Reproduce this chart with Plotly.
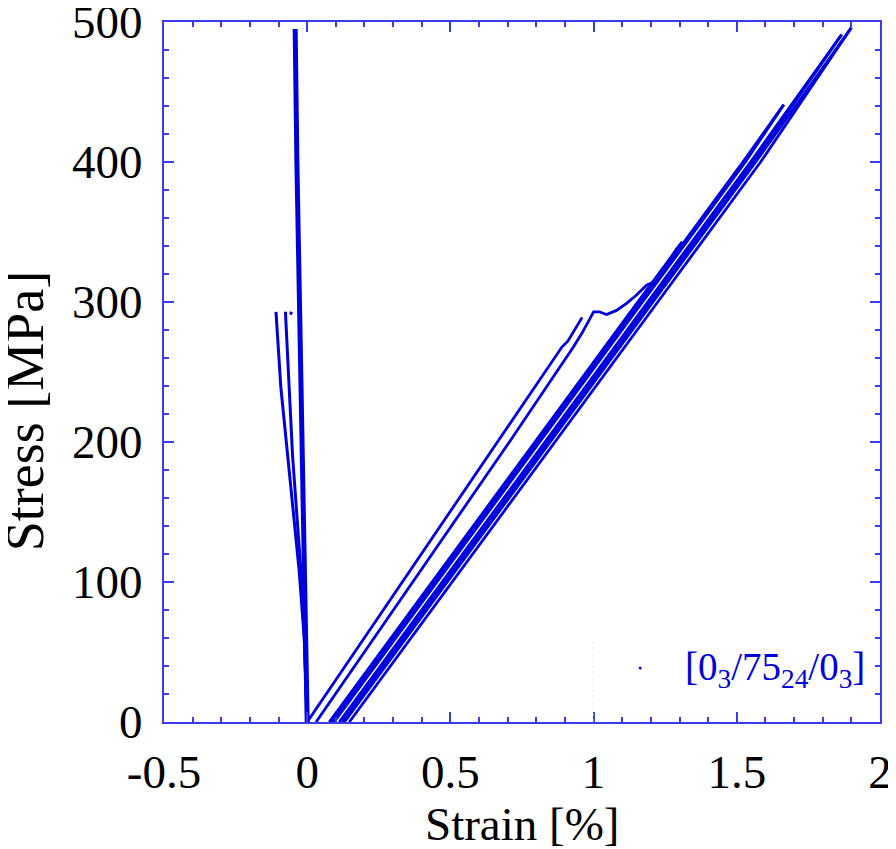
import plotly.graph_objects as go

BLUE = "#0000dd"
AXIS = "#3a3aee"
FONT = "Liberation Serif"

# Transverse strain branches (negative strain)
trans_main_x = [0, -0.007, -0.016, -0.030, -0.036, -0.042]
trans_main_y = [0, 76, 174, 305, 400, 495]
trans_a_x = [0, -0.010, -0.028, -0.051, -0.0745, -0.092, -0.109]
trans_a_y = [0, 59, 108, 157, 206, 239, 293]
trans_b_x = [0, -0.010, -0.022, -0.034, -0.051, -0.063, -0.076]
trans_b_y = [0, 59, 108, 141, 190, 239, 293]
trans_hook_x = [-0.058, -0.055]
trans_hook_y = [291, 293]

# Axial strain: loading / unloading cycles
load1_x = [0, 0.332, 0.664, 0.89, 0.91, 0.96]
load1_y = [0, 100, 200, 268, 272, 289]
reload2_x = [0.031, 0.37, 0.706, 0.93, 0.96, 1.0, 1.02, 1.045, 1.08, 1.115, 1.15, 1.185, 1.206, 1.25, 1.29, 1.31]
reload2_y = [0, 100, 200, 268, 278, 293, 293, 291, 294, 299, 305, 312, 314, 325, 338, 343]
unload2_x = [1.31, 1.154, 0.795, 0.436, 0.077]
unload2_y = [343, 300, 200, 100, 0]
reload3_x = [0.085, 0.444, 0.803, 1.162, 1.521, 1.664]
reload3_y = [0, 100, 200, 300, 400, 441]
unload3_x = [1.664, 1.530, 1.171, 0.812, 0.453, 0.094]
unload3_y = [441, 400, 300, 200, 100, 0]
reload4_x = [0.112, 0.471, 0.830, 1.189, 1.548, 1.866]
reload4_y = [0, 100, 200, 300, 400, 491]
unload4_x = [1.866, 1.558, 1.199, 0.840, 0.481, 0.122]
unload4_y = [491, 400, 300, 200, 100, 0]
reload5_x = [0.130, 0.489, 0.848, 1.207, 1.566, 1.90]
reload5_y = [0, 100, 200, 300, 400, 496]
unload5_x = [1.90, 1.583, 1.224, 0.865, 0.506, 0.147]
unload5_y = [496, 400, 300, 200, 100, 0]

x_ticks = [-0.5, 0, 0.5, 1, 1.5, 2]
x_tick_text = ["-0.5", "0", "0.5", "1", "1.5", "2"]
y_ticks = [0, 100, 200, 300, 400, 500]
y_tick_text = ["0", "100", "200", "300", "400", "500"]
legend_label = "[0<sub>3</sub>/75<sub>24</sub>/0<sub>3</sub>]"

fig = go.Figure()
curves = [
    (trans_main_x, trans_main_y, 5),
    (trans_a_x, trans_a_y, 3),
    (trans_b_x, trans_b_y, 3),
    (trans_hook_x, trans_hook_y, 3),
    (load1_x, load1_y, 2.8),
    (reload2_x, reload2_y, 2.8),
    (unload2_x, unload2_y, 2.8),
    (reload3_x, reload3_y, 2.8),
    (unload3_x, unload3_y, 2.8),
    (reload4_x, reload4_y, 2.8),
    (unload4_x, unload4_y, 2.8),
    (reload5_x, reload5_y, 2.8),
    (unload5_x, unload5_y, 2.8),
]
for xs, ys, w in curves:
    fig.add_trace(go.Scatter(x=xs, y=ys, mode="lines",
                             line=dict(color=BLUE, width=w),
                             showlegend=False, hoverinfo="skip", cliponaxis=False))

axis_common = dict(
    showline=True, linecolor=AXIS, linewidth=2, mirror="ticks",
    ticks="inside", ticklen=10, tickwidth=1.5, tickcolor=AXIS,
    showgrid=False, zeroline=False, automargin=False, ticklabeloverflow="allow",
    tickfont=dict(family=FONT, size=47, color="black"),
)
fig.update_xaxes(range=[-0.5, 2], tickvals=x_ticks, ticktext=x_tick_text,
                 minor=dict(dtick=0.1, ticks="inside", ticklen=5, tickcolor=AXIS, showgrid=False),
                 ticklabelstandoff=8, **axis_common)
fig.update_yaxes(range=[0, 500], tickvals=y_ticks, ticktext=y_tick_text,
                 minor=dict(dtick=20, ticks="inside", ticklen=5, tickcolor=AXIS, showgrid=False),
                 ticklabelstandoff=10, **axis_common)

fig.add_annotation(text="Strain [%]", xref="paper", yref="paper", x=0.5, y=-0.146,
                   xanchor="center", yanchor="middle", showarrow=False,
                   font=dict(family=FONT, size=47, color="black"))
fig.add_annotation(text="Stress [MPa]", xref="paper", yref="paper", x=-0.194, y=0.444,
                   xanchor="center", yanchor="middle", showarrow=False, textangle=-90,
                   font=dict(family=FONT, size=54, color="black"))
fig.add_annotation(text=legend_label, xref="paper", yref="paper", x=0.725, y=0.075,
                   xanchor="left", yanchor="middle", showarrow=False,
                   font=dict(family=FONT, size=39, color=BLUE))
fig.add_shape(type="circle", xref="paper", yref="paper",
              x0=0.6635, x1=0.6665, y0=0.0755, y1=0.0785,
              line=dict(color=BLUE, width=1), fillcolor=BLUE)
fig.add_shape(type="line", xref="paper", yref="paper", x0=0.599, x1=0.599, y0=0.0, y1=0.121,
              line=dict(color="#f0f0f0", width=1, dash="dot"))

# the page adds an 8px body margin, so the figure is sized/offset to compensate
fig.update_layout(width=888, height=841, margin=dict(l=156, r=16, t=14, b=127),
                  plot_bgcolor="white", paper_bgcolor="white")
fig.write_html("out.html")
